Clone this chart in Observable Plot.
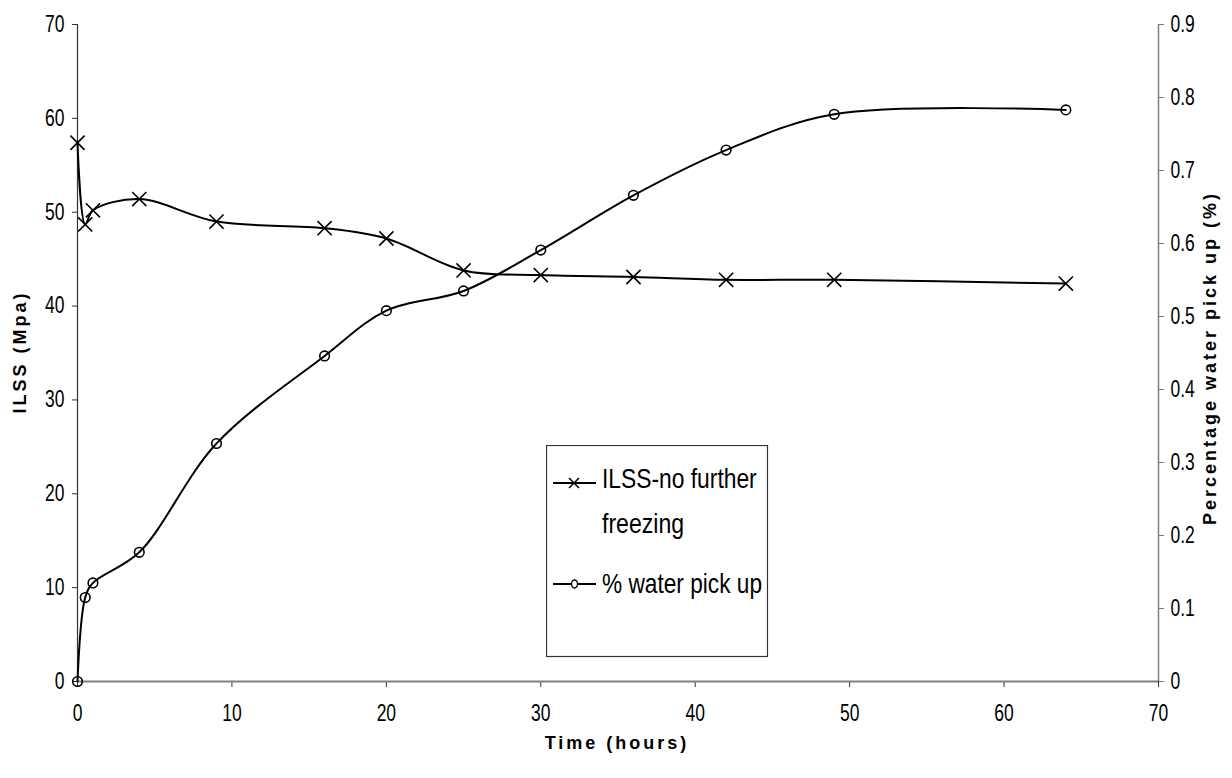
<!DOCTYPE html>
<html>
<head>
<meta charset="utf-8">
<script src="https://cdn.jsdelivr.net/npm/d3@7"></script>
<script src="https://cdn.jsdelivr.net/npm/@observablehq/plot@0.6"></script>
<style>
  html, body { margin: 0; padding: 0; background: #fff; }
  #wrap { position: relative; width: 1232px; height: 778px; overflow: hidden; background: #fff; }
  #wrap svg.plot { position: absolute; left: 0; top: 0; }
  .title { position: absolute; font-family: "Liberation Sans", Arial, sans-serif; font-weight: bold;
           font-size: 18px; letter-spacing: 3px; color: #000; white-space: nowrap;
           transform: translate(-50%, -50%); }
  .title.rot { transform: translate(-50%, -50%) rotate(-90deg); }
  #legend { position: absolute; left: 546px; top: 445px; }
</style>
</head>
<body>
<div id="wrap"></div>
<script>
// ---- data ----
const hours       = [0, 0.5, 1, 4, 9, 16, 20, 25, 30, 36, 42, 49, 64];
const ilss        = [57.4, 48.7, 50.2, 51.4, 49.0, 48.3, 47.2, 43.8, 43.3, 43.1, 42.8, 42.8, 42.4];
const waterPickup = [0, 0.115, 0.135, 0.177, 0.326, 0.446, 0.508, 0.535, 0.591, 0.666, 0.728, 0.777, 0.783];

const xTicks     = [0, 10, 20, 30, 40, 50, 60, 70];
const leftTicks  = [0, 10, 20, 30, 40, 50, 60, 70];
const rightTicks = [0, 0.1, 0.2, 0.3, 0.4, 0.5, 0.6, 0.7, 0.8, 0.9];

const seriesNames = ["ILSS-no further freezing", "% water pick up"];

const leftMax = 70, rightMax = 0.9;
const k = leftMax / rightMax; // map right-axis values into the left-axis scale

const ilssData  = hours.map((h, i) => ({ h, v: ilss[i] }));
const waterData = hours.map((h, i) => ({ h, v: waterPickup[i] * k }));

const fmtRight = d => { const r = Math.round(d / k * 10) / 10; return r === 0 ? "0" : r.toFixed(1); };

const chart = Plot.plot({
  width: 1232,
  height: 778,
  marginLeft: 77,
  marginRight: 74,
  marginTop: 24,
  marginBottom: 97,
  style: {
    fontFamily: "'Liberation Sans', Arial, sans-serif",
    fontSize: "23px",
    background: "transparent",
    color: "#000",
    overflow: "visible"
  },
  x: { domain: [0, 70] },
  y: { domain: [0, leftMax] },
  marks: [
    Plot.axisX({ ticks: xTicks, tickSize: 6, tickPadding: 17, label: null, stroke: "#333", tickFormat: d => String(d) }),
    Plot.axisY({ ticks: leftTicks, tickSize: 5, tickPadding: 8, label: null, stroke: "#333", tickFormat: d => String(d) }),
    Plot.axisY({ anchor: "right", ticks: rightTicks.map(v => v * k), tickFormat: fmtRight,
                 tickSize: 5, tickPadding: 7, label: null, stroke: "#777" }),
    Plot.ruleX([70], { stroke: "#808080", strokeWidth: 1.5 }),
    Plot.ruleX([0], { stroke: "#333", strokeWidth: 1.2 }),
    Plot.ruleY([0], { stroke: "#808080", strokeWidth: 2.2 }),
    Plot.line(waterData, { x: "h", y: "v", curve: "catmull-rom", stroke: "#000", strokeWidth: 2 }),
    Plot.line(ilssData,  { x: "h", y: "v", curve: "catmull-rom", stroke: "#000", strokeWidth: 2 }),
    Plot.dot(ilssData,  { x: "h", y: "v", symbol: "times", r: 6.5, stroke: "#000", strokeWidth: 1.6 }),
    Plot.dot(waterData, { x: "h", y: "v", symbol: "circle", r: 4.8, stroke: "#000", fill: "none", strokeWidth: 1.6 })
  ]
});
chart.classList.add("plot");

const wrap = document.getElementById("wrap");
wrap.appendChild(chart);

// narrow the tick labels horizontally (reference uses a condensed face)
chart.querySelectorAll("text").forEach(t => {
  const w = t.getComputedTextLength();
  if (w > 0) {
    t.setAttribute("textLength", (w * 0.76).toFixed(2));
    t.setAttribute("lengthAdjust", "spacingAndGlyphs");
  }
});

// axis titles
function addTitle(text, x, y, rot) {
  const d = document.createElement("div");
  d.className = "title" + (rot ? " rot" : "");
  d.style.left = x + "px";
  d.style.top = y + "px";
  d.textContent = text;
  wrap.appendChild(d);
}
addTitle("ILSS (Mpa)", 20, 352, true);
addTitle("Percentage water pick up (%)", 1210, 358, true);
addTitle("Time (hours)", 617, 743, false);

// legend box
const ns = "http://www.w3.org/2000/svg";
const lg = document.createElementNS(ns, "svg");
lg.setAttribute("id", "legend");
lg.setAttribute("width", 223);
lg.setAttribute("height", 213);
lg.innerHTML = `
  <rect x="0.5" y="0.5" width="221" height="211" fill="#fff" stroke="#333" stroke-width="1.2"/>
  <g font-family="'Liberation Sans', Arial, sans-serif" font-size="28" fill="#000">
    <line x1="7" x2="50" y1="38" y2="38" stroke="#000" stroke-width="2"/>
    <path d="M23,33 L33,43 M23,43 L33,33" stroke="#000" stroke-width="1.5"/>
    <text transform="translate(56,43) scale(0.815,1)">${seriesNames[0].replace(" freezing", "")}</text>
    <text transform="translate(56,88) scale(0.825,1)">freezing</text>
    <line x1="7" x2="50" y1="139" y2="139" stroke="#000" stroke-width="2"/>
    <ellipse cx="28.5" cy="139" rx="3" ry="4" fill="#fff" stroke="#000" stroke-width="1.4"/>
    <text transform="translate(56,148) scale(0.81,1)">${seriesNames[1]}</text>
  </g>`;
wrap.appendChild(lg);
</script>
</body>
</html>
